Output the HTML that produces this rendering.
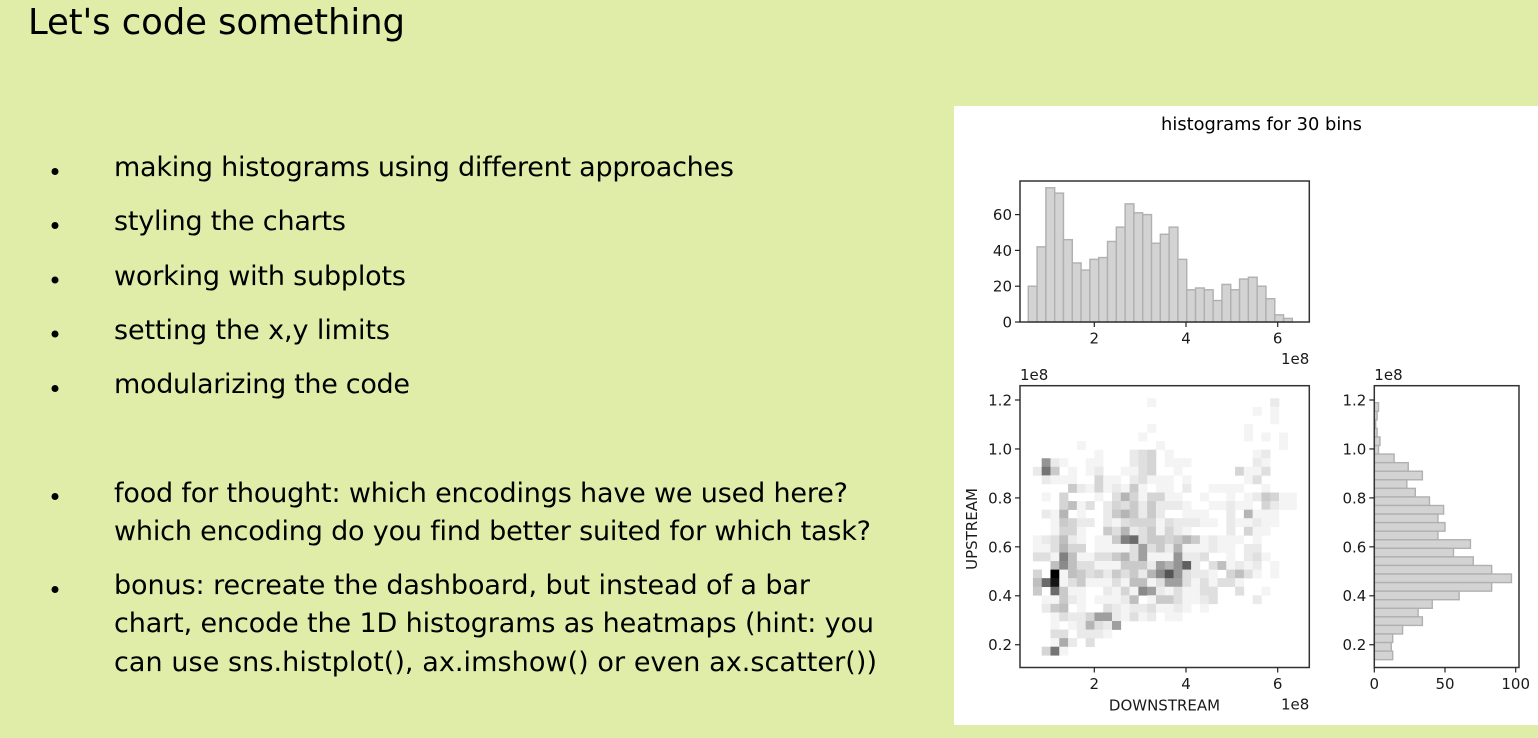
<!DOCTYPE html>
<html lang="en">
<head>
<meta charset="utf-8">
<title>Let's code something</title>
<style>
html,body{margin:0;padding:0;width:1538px;height:738px;overflow:hidden;background:#e0eda8;}
svg{display:block;position:absolute;left:0;top:0;}
text{font-family:"DejaVu Sans",sans-serif;fill:#000;font-variant-ligatures:none;}
.slide{font-size:27px;}
.tick{font-size:15px;fill:#1a1a1a;}
.soft{filter:blur(0.35px);}
</style>
</head>
<body>
<svg id="stage" width="1538" height="738" viewBox="0 0 1538 738" xmlns="http://www.w3.org/2000/svg">
  <text x="28" y="34" font-size="35.500" textLength="377">Let's code something</text>
  <g>
    <circle cx="55" cy="171.500" r="3.500"/>
    <text class="slide" x="114" y="176" textLength="620">making histograms using different approaches</text>
    <circle cx="55" cy="225.500" r="3.500"/>
    <text class="slide" x="114" y="230" textLength="232">styling the charts</text>
    <circle cx="55" cy="280" r="3.500"/>
    <text class="slide" x="114" y="285" textLength="292">working with subplots</text>
    <circle cx="55" cy="334" r="3.500"/>
    <text class="slide" x="114" y="339" textLength="276">setting the x,y limits</text>
    <circle cx="55" cy="388.500" r="3.500"/>
    <text class="slide" x="114" y="393" textLength="296">modularizing the code</text>
    <circle cx="55" cy="496.500" r="3.500"/>
    <text class="slide" x="114" y="502" textLength="734">food for thought: which encodings have we used here?</text>
    <text class="slide" x="114" y="540" textLength="757">which encoding do you find better suited for which task?</text>
    <circle cx="55" cy="589.500" r="3.500"/>
    <text class="slide" x="114" y="594" textLength="696">bonus: recreate the dashboard, but instead of a bar</text>
    <text class="slide" x="114" y="632" textLength="760">chart, encode the 1D histograms as heatmaps (hint: you</text>
    <text class="slide" x="114" y="671" textLength="763">can use sns.histplot(), ax.imshow() or even ax.scatter())</text>
  </g>
  <rect x="954" y="106" width="584" height="619" fill="#fff"/>
  <text x="1261.500" y="130" font-size="17.850" text-anchor="middle" fill="#1a1a1a" class="soft">histograms for 30 bins</text>
  <g id="top-hist" class="soft"></g>
  <g id="heatmap" class="soft"></g>
  <g id="right-hist" class="soft"></g>
</svg>
<script>
const topHistCounts = [20,42,75,72,46,33,29,35,36,45,53,66,61,60,44,49,53,35,18,19,18,12,21,18,24,25,20,13,4,2];
const topHistStart = 0.56;
const topHistBinWidth = 0.192;
const rightHistCounts = [3,2,1,2,4,3,14,24,34,23,29,39,49,45,50,45,68,56,70,83,97,83,60,41,31,34,20,13,12,13];
const rightHistTop = 1.189;
const rightHistBinHeight = 0.035;
const heatXStart = 0.661;
const heatXBinWidth = 0.1917;
const heatYTop = 1.207;
const heatYBinHeight = 0.035;
const heatMax = 24;
const heatCounts = [
[0,0,0,0,0,0,0,0,0,0,0,0,0,1,0,0,0,0,0,0,0,0,0,0,0,0,0,2,0,0],
[0,0,0,0,0,0,0,0,0,0,0,0,0,0,0,0,0,0,0,0,0,0,0,0,0,1,0,1,0,0],
[0,0,0,0,0,0,0,0,0,0,0,0,0,0,0,0,0,0,0,0,0,0,0,0,0,0,0,1,0,0],
[0,0,0,0,0,0,0,0,0,0,0,0,0,1,0,0,0,0,0,0,0,0,0,0,1,0,0,0,0,0],
[0,0,0,0,0,0,0,0,0,0,0,0,1,0,0,0,0,0,0,0,0,0,0,0,1,0,1,0,1,0],
[0,0,0,0,0,1,0,0,0,0,0,0,0,0,1,0,0,0,0,0,0,0,0,0,0,0,0,0,1,0],
[0,0,0,0,0,0,0,1,0,0,0,2,3,4,0,1,0,0,0,0,0,0,0,0,0,1,2,0,0,0],
[0,10,2,1,0,0,1,1,0,0,0,2,3,4,0,1,1,1,0,0,0,0,0,0,0,2,1,0,0,0],
[2,13,5,0,1,0,1,2,0,0,1,1,3,4,0,0,1,0,0,0,0,0,0,4,1,1,3,0,0,0],
[0,2,1,1,1,0,0,4,1,1,0,2,3,1,1,1,0,1,0,0,0,0,0,0,1,3,0,0,0,0],
[0,0,0,0,5,2,1,4,1,2,1,5,1,0,1,1,0,2,0,0,1,1,1,1,0,0,1,0,0,0],
[0,1,0,4,0,0,0,1,0,3,7,4,1,4,4,1,1,0,0,1,0,0,1,0,1,2,5,4,1,1],
[0,0,0,4,6,1,3,0,2,4,3,5,2,5,2,2,2,1,0,0,1,1,2,1,1,0,4,2,1,1],
[0,2,1,7,0,1,0,0,2,5,7,5,2,5,2,0,0,1,1,1,0,0,2,0,7,1,1,1,0,0],
[0,0,1,5,4,2,2,0,2,1,3,4,4,4,1,3,2,2,2,1,1,0,2,1,1,2,1,1,0,0],
[0,0,1,4,4,1,0,0,5,3,7,2,3,5,1,4,2,1,0,0,0,0,2,0,4,1,1,0,0,0],
[1,2,3,6,2,1,0,1,1,5,12,14,3,5,5,4,5,7,5,1,2,1,1,1,0,1,0,0,0,0],
[1,1,3,7,4,4,0,1,1,1,1,3,9,3,5,2,7,1,1,1,2,1,1,0,2,2,0,0,0,0],
[3,3,1,12,6,1,1,3,3,5,7,3,9,1,1,1,10,2,2,3,0,0,1,0,2,3,1,0,0,0],
[0,0,6,11,6,3,3,1,1,1,5,5,5,2,9,7,10,15,2,0,3,6,1,2,1,2,0,1,0,0],
[4,0,24,1,6,5,3,4,2,5,3,5,2,7,11,16,10,3,2,2,1,0,4,6,3,1,0,1,0,0],
[6,14,22,1,3,5,1,1,1,3,1,6,6,1,3,9,9,3,1,3,1,3,3,1,0,0,0,0,0,0],
[5,0,14,5,1,1,0,0,2,1,4,1,11,9,2,1,3,1,1,3,3,0,0,3,0,0,1,0,0,0],
[0,1,1,5,2,1,0,1,1,1,2,6,0,1,5,5,3,1,1,2,3,0,0,0,0,2,0,0,0,0],
[0,2,5,6,0,1,0,0,3,2,1,2,2,3,1,1,2,1,0,1,0,0,0,0,0,0,0,0,0,0],
[0,0,1,3,2,2,4,9,9,2,1,3,1,2,0,1,1,0,0,0,0,0,0,0,0,0,0,0,0,0],
[0,0,1,0,1,2,7,3,2,9,0,0,0,0,0,0,0,0,0,0,0,0,0,0,0,0,0,0,0,0],
[0,0,3,3,0,2,2,2,1,0,0,0,0,0,0,0,0,0,0,0,0,0,0,0,0,0,0,0,0,0],
[0,0,1,8,2,0,3,0,0,0,0,0,0,0,0,0,0,0,0,0,0,0,0,0,0,0,0,0,0,0],
[0,4,13,1,0,0,0,0,0,0,0,0,0,0,0,0,0,0,0,0,0,0,0,0,0,0,0,0,0,0]
];
const topXTicks = [2,4,6];
const topYTicks = [0,20,40,60];
const mainXTicks = [2,4,6];
const mainYTicks = [0.2,0.4,0.6,0.8,1.0,1.2];
const rightXTicks = [0,50,100];

const SVGNS = 'http://www.w3.org/2000/svg';
const DOWN_LEFT = 1094.3, DOWN_PER_UNIT = 45.85;
const UP_TOP = 400, UP_PER_UNIT = 244.75;
const downX = v => DOWN_LEFT + (v - 2) * DOWN_PER_UNIT;
const upY = v => UP_TOP + (1.2 - v) * UP_PER_UNIT;
const topCountY = v => 322 - v * 1.79;
const rightCountX = v => 1374.3 + v * 1.414;

function make(parent, tag, attrs, text) {
  const el = document.createElementNS(SVGNS, tag);
  for (const k in attrs) el.setAttribute(k, attrs[k]);
  if (text !== undefined) el.textContent = text;
  parent.appendChild(el);
  return el;
}
function frame(parent, l, t, r, b) {
  const el = make(parent, 'rect', {x:l, y:t, width:r-l, height:b-t, fill:'none', stroke:'#333', 'stroke-width':1.5});
  
  
}
function xTick(parent, x, yAxis, label) {
  const t = make(parent, 'line', {x1:x, x2:x, y1:yAxis, y2:yAxis+5, stroke:'#222', 'stroke-width':1.2});
  
  
  const s = make(parent, 'text', {class:'tick', x:x, y:yAxis+21.5, 'text-anchor':'middle'}, label);
  
  
}
function yTick(parent, xAxis, y, label) {
  const t = make(parent, 'line', {x1:xAxis-5, x2:xAxis, y1:y, y2:y, stroke:'#222', 'stroke-width':1.2});
  
  
  const s = make(parent, 'text', {class:'tick', x:xAxis-8, y:y+5.4, 'text-anchor':'end'}, label);
  
  
}
function note(parent, x, y, anchor, label) {
  const s = make(parent, 'text', {class:'tick', x:x, y:y, 'text-anchor':anchor}, label);
  
  
}
const BAR = {fill:'#d3d3d3', stroke:'#b0b0b0', 'stroke-width':1.4};

// top histogram
const topG = document.getElementById('top-hist');
topHistCounts.forEach((n, i) => {
  const x0 = downX(topHistStart + i * topHistBinWidth);
  const x1 = downX(topHistStart + (i + 1) * topHistBinWidth);
  const bar = make(topG, 'rect', Object.assign({x:x0, y:topCountY(n), width:x1-x0, height:topCountY(0)-topCountY(n)}, BAR));
  
  
});
frame(topG, 1020, 181, 1309.3, 322);
topXTicks.forEach(v => xTick(topG, downX(v), 322, String(v)));
topYTicks.forEach(v => yTick(topG, 1020, topCountY(v), String(v)));
note(topG, 1309.3, 364, 'end', '1e8');

// heatmap
const heatG = document.getElementById('heatmap');
heatCounts.forEach((row, r) => {
  row.forEach((n, c) => {
    if (!n) return;
    const x0 = downX(heatXStart + c * heatXBinWidth);
    const x1 = downX(heatXStart + (c + 1) * heatXBinWidth);
    const y0 = upY(heatYTop - r * heatYBinHeight);
    const y1 = upY(heatYTop - (r + 1) * heatYBinHeight);
    const g = Math.round(255 * (1 - n / heatMax));
    const cell = make(heatG, 'rect', {x:x0, y:y0, width:x1-x0+0.3, height:y1-y0+0.3, fill:`rgb(${g},${g},${g})`});
    
    
  });
});
frame(heatG, 1020, 385.7, 1309.3, 667.5);
mainXTicks.forEach(v => xTick(heatG, downX(v), 667.5, String(v)));
mainYTicks.forEach(v => yTick(heatG, 1020, upY(v), v.toFixed(1)));
note(heatG, 1020, 380, 'start', '1e8');
note(heatG, 1309.3, 709.5, 'end', '1e8');
const xLab = make(heatG, 'text', {class:'tick', x:1164.5, y:710.5, 'text-anchor':'middle'}, 'DOWNSTREAM');


const yLab = make(heatG, 'text', {class:'tick', x:0, y:0, 'text-anchor':'middle', transform:'translate(977 529) rotate(-90)'}, 'UPSTREAM');



// right histogram
const rightG = document.getElementById('right-hist');
rightHistCounts.forEach((n, i) => {
  const y0 = upY(rightHistTop - i * rightHistBinHeight);
  const y1 = upY(rightHistTop - (i + 1) * rightHistBinHeight);
  const bar = make(rightG, 'rect', Object.assign({x:rightCountX(0), y:y0, width:rightCountX(n)-rightCountX(0), height:y1-y0}, BAR));
  
  
});
frame(rightG, 1374.3, 385.7, 1519, 667.5);
rightXTicks.forEach(v => xTick(rightG, rightCountX(v), 667.5, String(v)));
mainYTicks.forEach(v => yTick(rightG, 1374.3, upY(v), v.toFixed(1)));
note(rightG, 1374.3, 380, 'start', '1e8');
</script>
</body>
</html>
